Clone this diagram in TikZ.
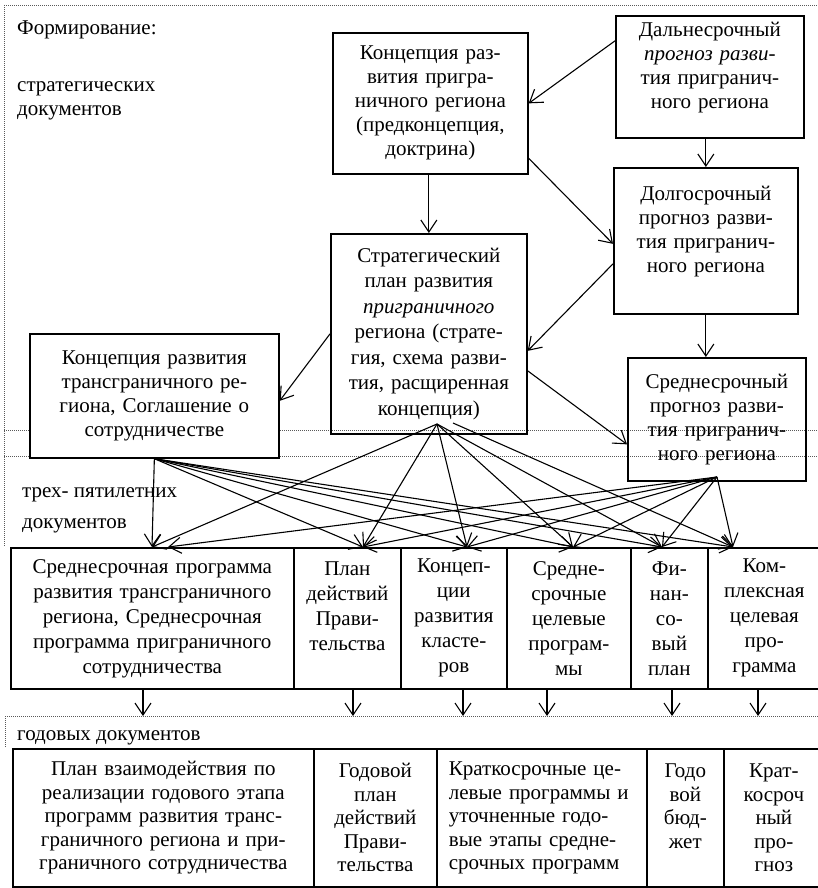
\documentclass[tikz,border=0pt]{standalone}
\usepackage{fontspec}
\setmainfont{Liberation Serif}
\usetikzlibrary{arrows.meta}
\begin{document}
\begin{tikzpicture}[x=1pt,y=-1pt,
  every node/.style={font=\fontsize{21}{24}\selectfont},
  box/.style={draw, line width=1.7pt, inner sep=0pt, align=center, anchor=north west},
  midrow/.style={box, minimum height=141pt, font=\fontsize{21}{25}\selectfont},
  lowrow/.style={box, minimum height=138pt, font=\fontsize{21}{23.5}\selectfont},
  arr/.style={line width=1.1pt, -{Straight Barb[length=12pt,width=16pt]}},
  sepline/.style={line width=0.7pt, black!65, dash pattern=on 1pt off 1pt},
  lab/.style={anchor=base west, inner sep=0pt}]
\useasboundingbox (0,0) rectangle (818,888);
% section separators
\draw[sepline] (4,5) -- (818,5);
\draw[sepline] (4,5) -- (4,547);
\draw[sepline] (4,430) -- (818,430);
\draw[sepline] (4,456) -- (818,456);
\draw[sepline] (5,716) -- (818,716);
\draw[sepline] (5,716) -- (5,748);
% section labels
\node[lab] (f1) at (17,35) {Формирование:};
\node[lab] (f2) at (17,92) {стратегических};
\node[lab] (f3) at (17,116) {документов};
\node[lab] (f4) at (22,497) {трех- пятилетних};
\node[lab] (f5) at (22,528) {документов};
\node[lab] (f6) at (17,740) {годовых документов};
% strategic documents
\node[box, minimum width=195pt, minimum height=141pt, text width=189pt] (kpr) at (332,32)
  {Концепция раз-\\вития пригра-\\ничного региона\\(предконцепция,\\доктрина)};
\node[box, minimum width=188pt, minimum height=122pt, text width=182pt] (dal) at (615,15)
  {Дальнесрочный\\\textit{прогноз разви-}\\тия пригранич-\\ного региона\\\mbox{}};
\node[box, minimum width=184pt, minimum height=146pt, text width=178pt] (dol) at (613,167)
  {Долгосрочный\\прогноз разви-\\тия пригранич-\\ного региона\\\mbox{}};
\node[box, minimum width=196pt, minimum height=200pt, text width=190pt, font=\fontsize{21}{25.5}\selectfont] (str) at (330,233)
  {Стратегический\\план развития\\\textit{приграничного}\\региона (страте-\\гия, схема разви-\\тия, расщиренная\\концепция)};
\node[box, fill=white, minimum width=249pt, minimum height=124pt, text width=243pt] (ktr) at (29,333)
  {Концепция развития\\трансграничного ре-\\гиона, Соглашение о\\сотрудничестве};
\node[box, minimum width=178pt, minimum height=123pt, text width=172pt] (srp) at (627,357)
  {Среднесрочный\\прогноз разви-\\тия пригранич-\\ного региона};
% three- to five-year documents
\node[midrow, minimum width=283pt, text width=279pt] (m1) at (10,547)
  {Среднесрочная программа\\развития трансграничного\\региона, Среднесрочная\\программа приграничного\\сотрудничества};
\node[midrow, minimum width=107pt, text width=103pt] (m2) at (293,547)
  {План\\действий\\Прави-\\тельства\\\mbox{}};
\node[midrow, minimum width=106pt, text width=102pt] (m3) at (400,547)
  {Концеп-\\ции\\развития\\класте-\\ров};
\node[midrow, minimum width=124pt, text width=120pt] (m4) at (506,547)
  {Средне-\\срочные\\целевые\\програм-\\мы};
\node[midrow, minimum width=77pt, text width=73pt] (m5) at (630,547)
  {Фи-\\нан-\\со-\\вый\\план};
\node[midrow, minimum width=113pt, text width=109pt] (m6) at (707,547)
  {Ком-\\плексная\\целевая\\про-\\грамма};
% annual documents
\node[lowrow, minimum width=301pt, text width=297pt] (b1) at (12,748)
  {План взаимодействия по\\реализации годового этапа\\программ развития транс-\\граничного региона и при-\\граничного сотрудничества};
\node[lowrow, minimum width=123pt, text width=119pt] (b2) at (313,748)
  {Годовой\\план\\действий\\Прави-\\тельства};
\node[lowrow, align=left, minimum width=210pt, text width=186pt] (b3) at (436,748)
  {Краткосрочные це-\\левые программы и\\уточненные годо-\\вые этапы средне-\\срочных программ};
\node[lowrow, minimum width=77pt, text width=73pt] (b4) at (646,748)
  {Годо\\вой\\бюд-\\жет\\\mbox{}};
\node[lowrow, minimum width=100pt, text width=96pt] (b5) at (723,748)
  {Крат-\\косроч\\ный\\про-\\гноз};
% arrows among strategic documents
\draw[arr] ([yshift=36pt]dal.west) -- (kpr.east);
\draw[arr] (dol.north |- dal.south) -- (dol.north);
\draw[arr] ([yshift=-55pt]kpr.east) -- ([yshift=-3pt]dol.west);
\draw[arr] (str.north |- kpr.south) -- (str.north);
\draw[arr] ([yshift=-23pt]dol.west) -- ([yshift=-17pt]str.east);
\draw[arr] (dol.south) -- (dol.south |- srp.north);
\draw[arr] ([yshift=-37pt]str.east) -- ([yshift=-25pt]srp.west);
\draw[arr] (str.west) -- ([yshift=-5pt]ktr.east);
% fan sources and targets
\coordinate (s2) at (437,424);
\coordinate (s2b) at (453,423);
\coordinate (s3) at (717,477);
\coordinate (t1a) at (152,547);
\coordinate (t1b) at (168,547);
\coordinate (t2) at (363,547);
\coordinate (t3) at (467,547);
\coordinate (t4) at (573,547);
\coordinate (t5) at (662,547);
\coordinate (t6) at (733,547);
\draw[arr] (ktr.south) -- (t1a);
\foreach \t in {t2,t3,t4,t5,t6} \draw[arr] (ktr.south) -- (\t);
\foreach \t in {t1a,t2,t3,t4,t5} \draw[arr] (s2) -- (\t);
\draw[arr] (s2b) -- (t6);
\foreach \t in {t1b,t2,t3,t4,t5,t6} \draw[arr] (s3) -- (\t);
% arrows to annual documents
\coordinate (d1) at (143,716);
\coordinate (d2) at (353,716);
\coordinate (d3) at (463,716);
\coordinate (d4) at (547,716);
\coordinate (d5) at (672,716);
\coordinate (d6) at (758,716);
\draw[arr] (d1 |- m1.south) -- (d1);
\draw[arr] (d2 |- m2.south) -- (d2);
\draw[arr] (d3 |- m3.south) -- (d3);
\draw[arr] (d4 |- m4.south) -- (d4);
\draw[arr] (d5 |- m5.south) -- (d5);
\draw[arr] (d6 |- m6.south) -- (d6);
\end{tikzpicture}
\end{document}
